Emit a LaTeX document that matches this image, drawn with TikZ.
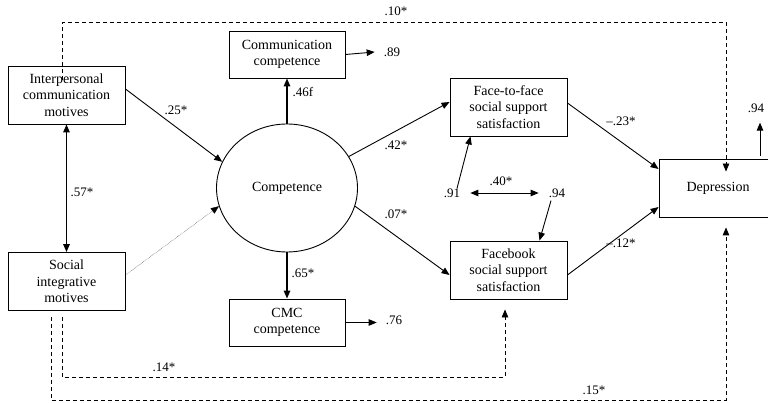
\documentclass[tikz,border=0pt]{standalone}
\usepackage{fontspec}
\setmainfont{Liberation Serif}
\usetikzlibrary{arrows.meta,shapes.geometric}
\tikzset{every node/.style={font=\fontsize{14}{16.5}\selectfont}}
\colorlet{linecol}{black}
\colorlet{labelcol}{black}
\tikzset{
  varbox/.style={draw=linecol, line width=0.9pt, align=center, inner sep=0pt,
    minimum width=117pt, minimum height=58pt},
  smallbox/.style={varbox, minimum width=116pt, minimum height=47pt},
  lab/.style={font=\fontsize{13}{15}\selectfont, text=labelcol, inner sep=0pt},
  path/.style={->, line width=0.9pt, linecol},
  boldpath/.style={->, line width=1.4pt, linecol},
  dashpath/.style={->, line width=0.9pt, linecol, dash pattern=on 4pt off 3pt},
}

\begin{document}
\begin{tikzpicture}[x=1pt, y=-1pt, >={Triangle[length=8pt,width=6.5pt]}]

  \useasboundingbox (0,0) rectangle (768,403);

  % Observed variables.
  \node[varbox] (inter) at (66.5,95) {Interpersonal\\communication\\motives};
  \node[varbox] (social) at (66.5,281.5) {Social\\integrative\\motives};
  \node[smallbox] (commcomp) at (287,54.5) {Communication\\competence};
  \node[smallbox] (cmccomp) at (287,322.5) {CMC\\competence};
  \node[varbox] (ftf) at (508.5,107) {Face-to-face\\social support\\satisfaction};
  \node[varbox] (fb) at (508.5,270) {Facebook\\social support\\satisfaction};
  \node[varbox, minimum width=118pt] (dep) at (718,188) {Depression};

  % Latent variable.
  \node[draw=linecol, line width=0.9pt, ellipse, minimum width=141pt,
    minimum height=128pt, inner sep=0pt] (comp) at (287,188) {Competence};

  % Residuals.
  \node[lab] (e89) at (392,52) {.89};
  \node[lab] (e76) at (394,320) {.76};
  \node[lab] (e91) at (452,193) {.91};
  \node[lab] (e94a) at (557,193) {.94};
  \node[lab] (e94b) at (756,108) {.94};

  % Paths into and out of competence.
  \draw[path] ([yshift=6pt]inter.east) -- (comp.158);
  \draw[->, thin, densely dotted, linecol] ([yshift=6.5pt]social.east) -- (comp.195);
  \draw[boldpath] (comp.north) -- (commcomp.south);
  \draw[boldpath] (comp.south) -- (cmccomp.north);
  \draw[boldpath, <->] (inter.south) -- (social.north);
  \draw[path] (comp.27) -- ([yshift=5pt]ftf.west);
  \draw[path] (comp.-15) -- ([yshift=-5pt]fb.west);
  \draw[path] ([yshift=4pt]ftf.east) -- ([yshift=19pt]dep.west);
  \draw[path] ([yshift=-5pt]fb.east) -- ([yshift=-19pt]dep.west);

  % Residual arrows.
  \coordinate (e94up) at ([xshift=4pt,yshift=-10pt]e94b.south);
  \draw[path] (commcomp.east) -- ([xshift=-9pt]e89.west);
  \draw[path] (cmccomp.east) -- ([xshift=-9pt]e76.west |- cmccomp.east);
  \draw[path] ([xshift=5pt]e91.north) -- ([xshift=-38pt]ftf.south);
  \draw[path] ([xshift=-6pt,yshift=-3pt]e94a.south) -- ([xshift=31pt]fb.north);
  \draw[path, <->] ([xshift=-10pt]e94a.west) -- ([xshift=10pt]e91.east);
  \draw[path] ([yshift=3pt]e94up |- dep.north) -- (e94up);

  % Direct effects (dashed).
  \coordinate (intertop) at ([xshift=-4.5pt,yshift=-14pt]inter.north);
  \coordinate (deptop) at ([xshift=8pt,yshift=-13pt]dep.north);
  \coordinate (depbot) at ([xshift=8pt,yshift=-10pt]dep.south);
  \coordinate (socA) at ([xshift=-4.5pt,yshift=-6pt]social.south);
  \coordinate (socB) at ([xshift=-15.5pt,yshift=-6pt]social.south);
  \coordinate (fbbot) at ([xshift=-3.5pt,yshift=-10pt]fb.south);
  \draw[dashpath] (intertop) -- (intertop |- 0,22.5) -| (deptop);
  \draw[dashpath] (socA) -- (socA |- 0,377) -| (fbbot);
  \draw[dashpath] (socB) -- (socB |- 0,400) -| (depbot);

  % Coefficients.
  \node[lab] (l10) at (396,11) {.10*};
  \node[lab] (l25) at (176,110) {.25*};
  \node[lab] (l46) at (303,92) {.46f};
  \node[lab] (l57) at (82,192) {.57*};
  \node[lab] (l65) at (303,273) {.65*};
  \node[lab] (l42) at (396,145) {.42*};
  \node[lab] (l07) at (396,214) {.07*};
  \node[lab] (l40) at (501,181) {.40*};
  \node[lab] (l23) at (621,121) {–.23*};
  \node[lab] (l12) at (621,243) {–.12*};
  \node[lab] (l14) at (164,367) {.14*};
  \node[lab] (l15) at (594,390) {.15*};

\end{tikzpicture}
\end{document}
